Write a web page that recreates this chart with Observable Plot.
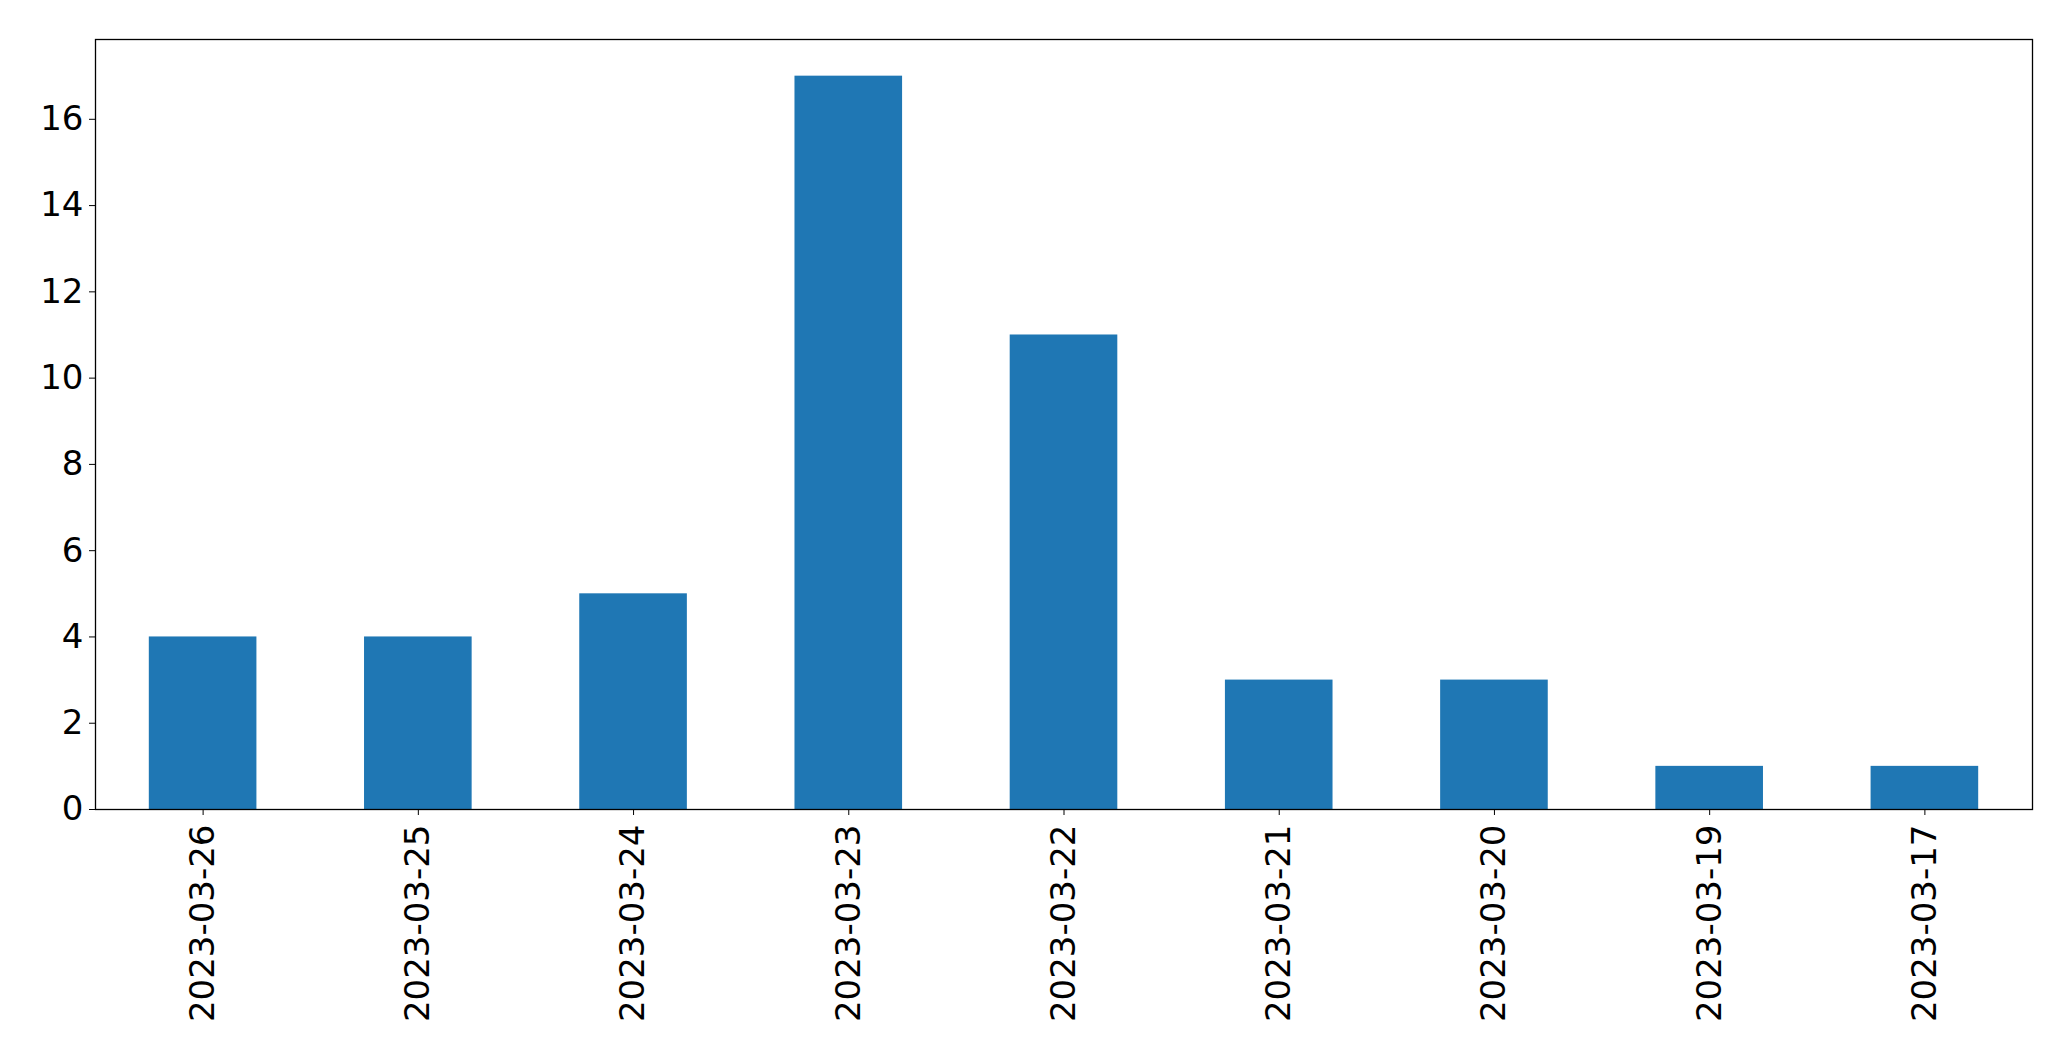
<!DOCTYPE html>
<html>
<head>
<meta charset="utf-8">
<script src="https://cdn.jsdelivr.net/npm/d3@7"></script>
<script src="https://cdn.jsdelivr.net/npm/@observablehq/plot@0.6"></script>
<style>
  html, body { margin: 0; padding: 0; background: #fff; }
  svg { display: block; }
</style>
</head>
<body>
<div id="chart"></div>
<script>
const dates = ["2023-03-26","2023-03-25","2023-03-24","2023-03-23","2023-03-22","2023-03-21","2023-03-20","2023-03-19","2023-03-17"];
const counts = [4, 4, 5, 17, 11, 3, 3, 1, 1];
const yTicks = [0, 2, 4, 6, 8, 10, 12, 14, 16];

const data = dates.map((d, i) => ({date: d, count: counts[i]}));

const chart = Plot.plot({
  width: 2071,
  height: 1061,
  marginLeft: 95,
  marginRight: 39,
  marginTop: 39,
  marginBottom: 252,
  style: {fontFamily: "DejaVu Sans", fontSize: "34px", color: "#000", background: "#fff"},
  x: {domain: dates, paddingInner: 0.5, paddingOuter: 0.25, round: false, label: null},
  y: {domain: [0, 17.85], label: null},
  marks: [
    Plot.barY(data, {x: "date", y: "count", fill: "#1f77b4"}),
    Plot.frame({stroke: "#000", strokeWidth: 1.3}),
    Plot.axisY({ticks: yTicks, tickSize: 6, tickPadding: 6, label: null, fontSize: 34, tickFormat: d => String(d)}),
    Plot.axisX({tickSize: 6, tickPadding: 9, tickRotate: -90, label: null, fontSize: 34})
  ]
});
document.getElementById("chart").appendChild(chart);
</script>
</body>
</html>
